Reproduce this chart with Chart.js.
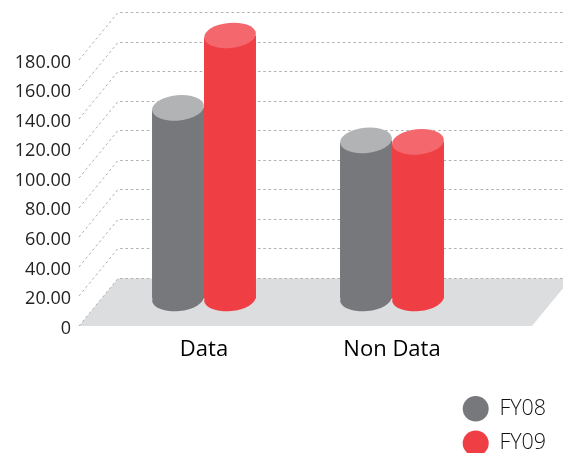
<!DOCTYPE html>
<html><head><meta charset="utf-8">
<style>html,body{margin:0;padding:0;background:#fff;overflow:hidden}canvas{display:block}</style>
<script src="https://cdn.jsdelivr.net/npm/chart.js@4"></script>
</head><body><canvas id="c" width="563" height="453"></canvas>
<script>
const categories = ['Data', 'Non Data'];
const seriesNames = ['FY08', 'FY09'];
const fy08 = [129, 107];
const fy09 = [178, 106];
const bodyColors = ['#77787B', '#EF3F44'];
const capColors = ['#B2B3B5', '#F4686D'];

const DX = 39, DY = 47.5, LIFT = 27.5, TILT = -0.095;
const FLOOR_L = 79, FLOOR_R = 532;

const scene = {
  id: 'scene',
  afterLayout(chart) {
    const l = chart.legend;
    l.left = 449.7; l.right = 563; l.top = 385; l.bottom = 530;
    l.width = 113.3; l.height = 145;
  },
  beforeDatasetsDraw(chart) {
    const {ctx, scales: {y}} = chart;
    const y0 = y.getPixelForValue(0);
    ctx.save();
    ctx.fillStyle = '#DCDDDF';
    ctx.beginPath();
    ctx.moveTo(FLOOR_L, y0);
    ctx.lineTo(FLOOR_L + DX, y0 - DY);
    ctx.lineTo(FLOOR_R + DX, y0 - DY);
    ctx.lineTo(FLOOR_R, y0);
    ctx.closePath();
    ctx.fill();
    ctx.strokeStyle = '#B0B1B3';
    ctx.lineWidth = 1;
    ctx.setLineDash([2.6, 2.7]);
    y.ticks.forEach(t => {
      const p = Math.round(y.getPixelForValue(t.value));
      ctx.beginPath();
      ctx.moveTo(FLOOR_L, p);
      ctx.lineTo(FLOOR_L + DX, p - DY);
      ctx.lineTo(563, p - DY);
      ctx.stroke();
    });
    ctx.restore();
    // bottoms of the cylinders
    ctx.save();
    ctx.translate(0, -LIFT);
    chart.data.datasets.forEach((d, i) => {
      chart.getDatasetMeta(i).data.forEach(b => {
        ctx.fillStyle = bodyColors[i];
        ctx.beginPath();
        ctx.ellipse(b.x, b.base, b.width / 2, 12.6, TILT, 0, Math.PI * 2);
        ctx.fill();
      });
    });
    ctx.restore();
    ctx.save();
    ctx.translate(0, -LIFT);
  },
  beforeDatasetDraw(chart, args) {
    const {ctx} = chart;
    ctx.save();
    ctx.beginPath();
    args.meta.data.forEach(b => {
      const hw = b.width / 2, s = Math.sin(-TILT) * hw;
      ctx.moveTo(b.x - hw, b.y + s);
      ctx.lineTo(b.x + hw, b.y - s);
      ctx.lineTo(b.x + hw, b.base + 2);
      ctx.lineTo(b.x - hw, b.base + 2);
      ctx.closePath();
    });
    ctx.clip();
  },
  afterDatasetDraw(chart) {
    chart.ctx.restore();
  },
  afterDatasetsDraw(chart) {
    const {ctx} = chart;
    chart.data.datasets.forEach((d, i) => {
      chart.getDatasetMeta(i).data.forEach(b => {
        ctx.fillStyle = capColors[i];
        ctx.beginPath();
        ctx.ellipse(b.x, b.y, b.width / 2, 12.6, TILT, 0, Math.PI * 2);
        ctx.fill();
      });
    });
    ctx.restore();
  }
};

new Chart(document.getElementById('c'), {
  type: 'bar',
  data: {
    labels: categories,
    datasets: [
      {label: seriesNames[0], data: fy08, backgroundColor: bodyColors[0], clip: false},
      {label: seriesNames[1], data: fy09, backgroundColor: bodyColors[1], clip: false}
    ]
  },
  options: {
    responsive: false,
    animation: false,
    devicePixelRatio: 1,
    layout: {padding: {left: 0, right: 77, top: 60, bottom: 0}},
    datasets: {bar: {categoryPercentage: 0.553, barPercentage: 1}},
    scales: {
      x: {
        grid: {display: false, drawTicks: false},
        border: {display: false},
        afterFit(s) { s.height = 127; },
        ticks: {color: '#000', padding: 11, maxRotation: 0,
          font: {family: '"Open Sans"', size: 22, weight: '500'}}
      },
      y: {
        min: 0, max: 180,
        grid: {display: false, drawTicks: false},
        border: {display: false},
        afterFit(s) { s.width = 110; },
        ticks: {stepSize: 20, color: '#222', padding: 39, labelOffset: 2.5,
          font: {family: '"Open Sans"', size: 18, weight: '400'},
          callback: v => v === 0 ? '0' : v.toFixed(2)}
      }
    },
    plugins: {
      tooltip: {enabled: false},
      legend: {
        position: 'chartArea',
        align: 'start',
        labels: {
          usePointStyle: true, pointStyle: 'circle', pointStyleWidth: 26, boxHeight: 18,
          padding: 13, color: '#111',
          font: {family: '"Open Sans"', size: 21.5, weight: '300'}
        }
      }
    }
  },
  plugins: [scene]
});
</script></body></html>
